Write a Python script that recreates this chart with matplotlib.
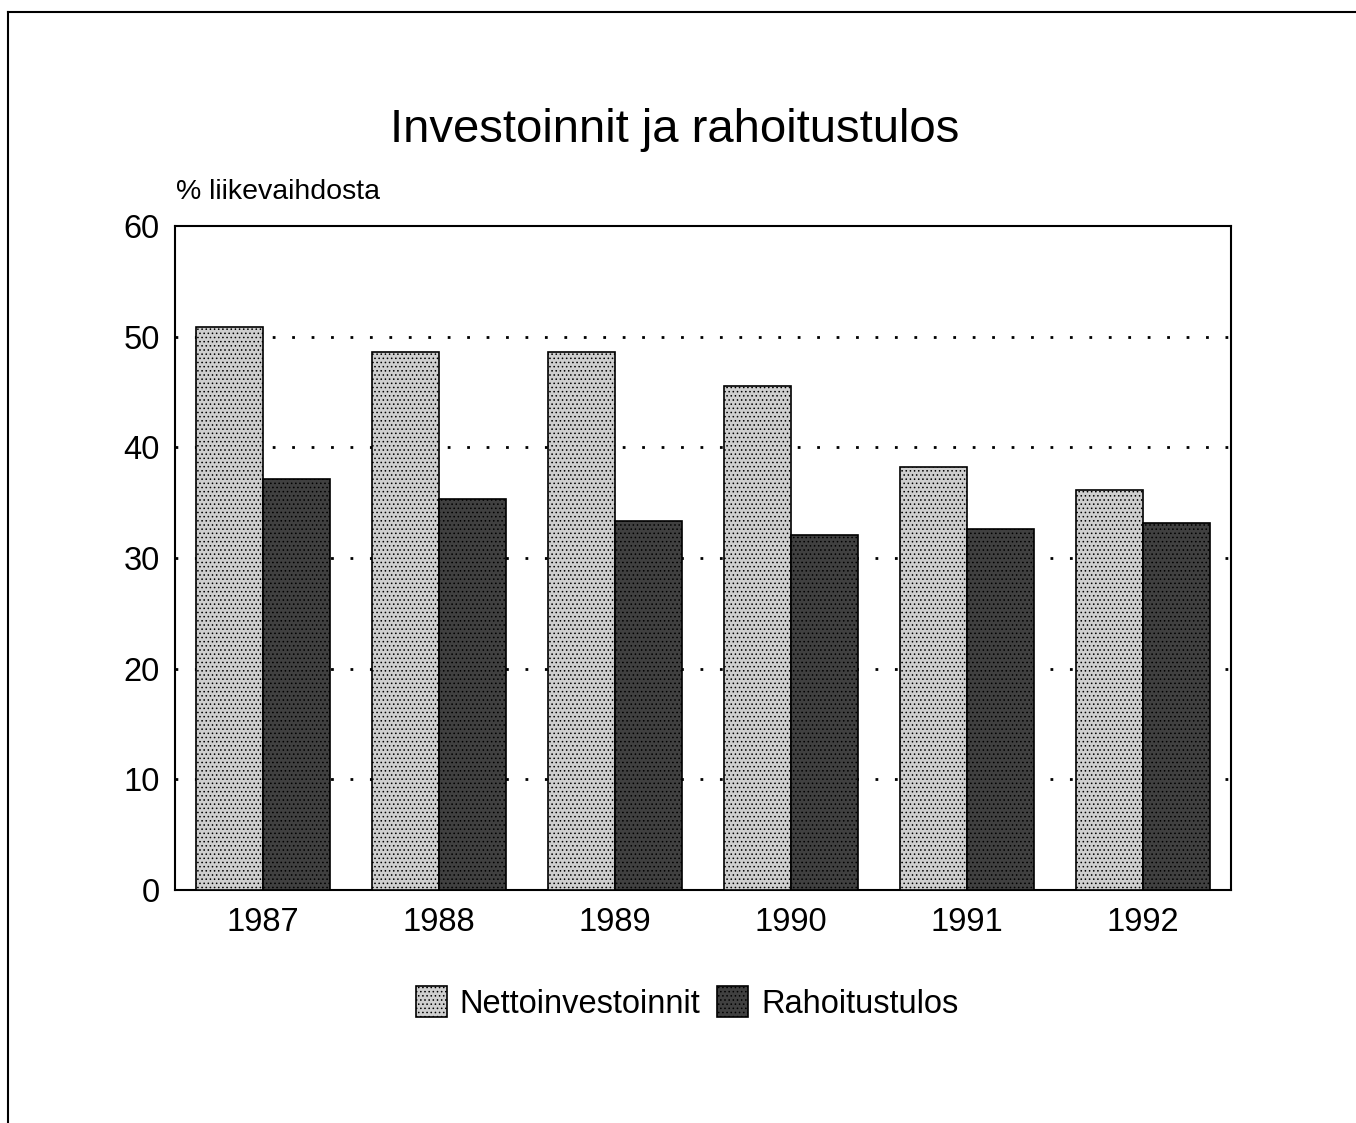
import matplotlib.pyplot as plt
import numpy as np

plt.rcParams['font.family'] = ['Liberation Sans', 'DejaVu Sans']

years = ["1987", "1988", "1989", "1990", "1991", "1992"]
netto = [50.9, 48.6, 48.6, 45.5, 38.2, 36.1]
rahoitus = [37.1, 35.3, 33.3, 32.1, 32.6, 33.2]
y_ticks = [0, 10, 20, 30, 40, 50, 60]

fig = plt.figure(figsize=(13.56, 11.23), dpi=100)
ax = fig.add_axes([175 / 1356, 1 - 890 / 1123, 1056 / 1356, 664 / 1123])

x = np.arange(len(years))
w = 0.38
plt.rcParams['hatch.linewidth'] = 0.6
ax.bar(x - w / 2, netto, w, color="#cfcfcf", edgecolor="black", linewidth=1.2,
       hatch="....", label="Nettoinvestoinnit", zorder=3)
ax.bar(x + w / 2, rahoitus, w, color="#404040", edgecolor="black", linewidth=1.2,
       hatch="....", label="Rahoitustulos", zorder=3)

ax.set_xlim(-0.5, len(years) - 0.5)
ax.set_ylim(0, 60)
ax.set_yticks(y_ticks)
ax.set_xticks(x)
ax.set_xticklabels(years)
ax.tick_params(axis="both", labelsize=23.5, length=0)
ax.tick_params(axis="x", pad=12)
ax.tick_params(axis="y", pad=11)
for t in y_ticks[1:-1]:
    ax.axhline(t, color="black", linestyle=(0, (1, 6)), linewidth=2, zorder=1)
for s in ax.spines.values():
    s.set_linewidth(1.5)

fig.text(675 / 1356, 1 - 130 / 1123, "Investoinnit ja rahoitustulos",
         ha="center", va="center", fontsize=34)
fig.text(176 / 1356, 1 - 192 / 1123, "% liikevaihdosta",
         ha="left", va="center", fontsize=20.5)

fig.legend(loc="center", bbox_to_anchor=(687 / 1356, 1 - 1003 / 1123), ncol=2,
           frameon=False, fontsize=23.5, handlelength=0.95, handleheight=1.1,
           handletextpad=0.4, columnspacing=0.5)

# page frame
fig.add_artist(plt.Line2D([8 / 1356, 1], [1 - 12 / 1123, 1 - 12 / 1123],
                          color="black", linewidth=1.5, transform=fig.transFigure))
fig.add_artist(plt.Line2D([8 / 1356, 8 / 1356], [0, 1 - 12 / 1123],
                          color="black", linewidth=1.5, transform=fig.transFigure))

fig.savefig("out.png", dpi=100)
